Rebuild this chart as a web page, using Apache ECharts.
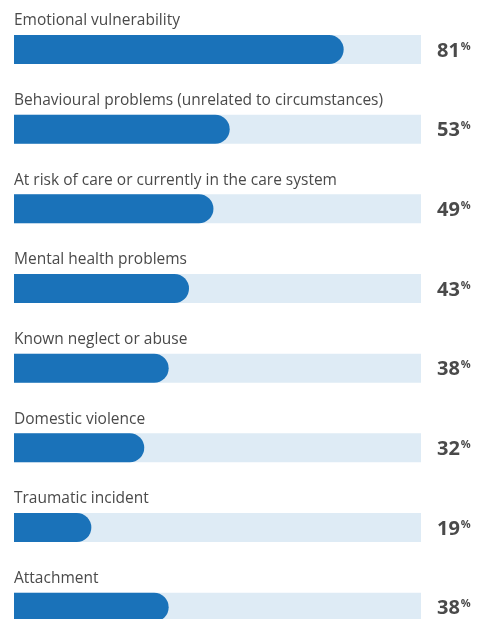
<!DOCTYPE html>
<html>
<head>
<meta charset="utf-8">
<script src="https://cdn.jsdelivr.net/npm/echarts@6/dist/echarts.min.js"></script>
<style>
  html, body { margin: 0; padding: 0; background: #fff; }
  #chart { width: 477px; height: 619px; }
</style>
</head>
<body>
<div id="chart"></div>
<script>
const categories = [
  'Emotional vulnerability',
  'Behavioural problems (unrelated to circumstances)',
  'At risk of care or currently in the care system',
  'Mental health problems',
  'Known neglect or abuse',
  'Domestic violence',
  'Traumatic incident',
  'Attachment'
];
const values = [81, 53, 49, 43, 38, 32, 19, 38];
const trackValues = categories.map(() => 100);

const chart = echarts.init(document.getElementById('chart'));

const textColor = '#4a4a4a';
const font = '"Open Sans", "Noto Sans", sans-serif';

const option = {
  animation: false,
  grid: {
    left: 14, width: 407, top: 9.7, height: 637.3,
    containLabel: false, outerBoundsMode: 'none'
  },
  xAxis: { type: 'value', min: 0, max: 100, show: false },
  yAxis: {
    type: 'category',
    data: categories,
    inverse: true,
    show: false
  },
  series: [
    {
      // light track behind each bar, carries the labels
      type: 'bar',
      data: trackValues,
      barWidth: 29,
      barGap: '-100%',
      silent: true,
      itemStyle: { color: '#deebf5' },
      label: {
        show: true,
        position: [0, -22],
        align: 'left',
        color: textColor,
        fontFamily: font,
        fontSize: 15.5,
        formatter: (p) => categories[p.dataIndex]
      },
      z: 1
    },
    {
      type: 'bar',
      data: values,
      barWidth: 29,
      itemStyle: { color: '#1a72b9', borderRadius: [0, 14.5, 14.5, 0] },
      label: {
        show: true,
        position: [423, 6],
        align: 'left',
        color: textColor,
        fontFamily: font,
        formatter: (p) => '{v|' + p.value + '}{p|%}',
        rich: {
          v: { fontSize: 20, fontWeight: 'bold', color: textColor, fontFamily: font },
          p: { fontSize: 11, fontWeight: 'bold', color: textColor, fontFamily: font, padding: [0, 0, 9, 1] }
        }
      },
      z: 2
    }
  ]
};

chart.setOption(option);
window.addEventListener('resize', () => chart.resize());
</script>
</body>
</html>
